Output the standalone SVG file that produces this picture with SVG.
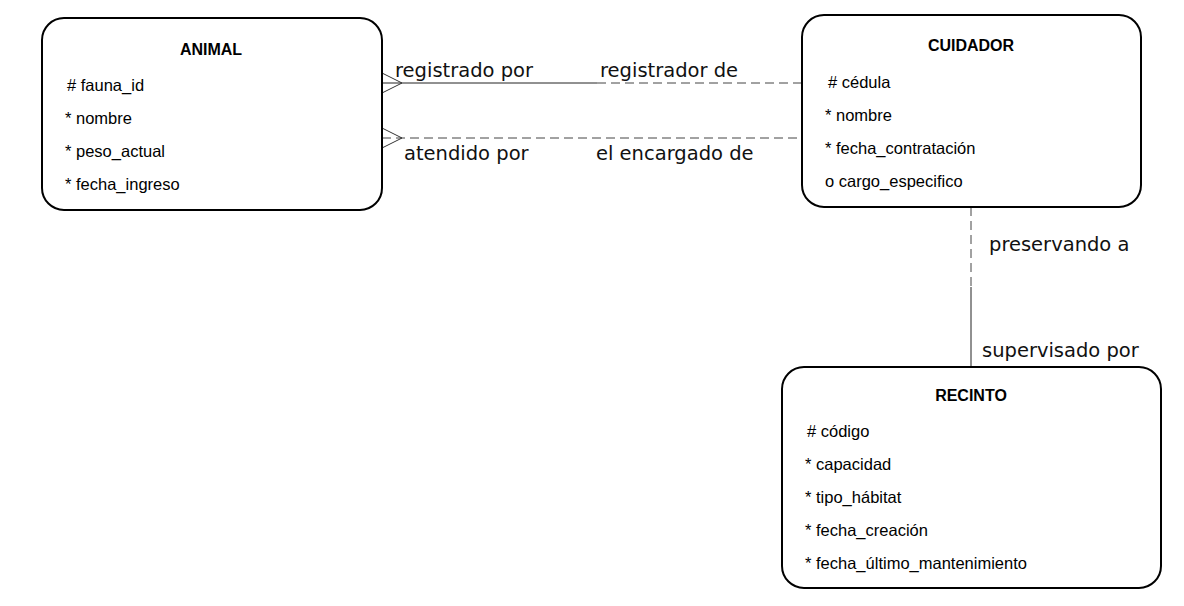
<svg xmlns="http://www.w3.org/2000/svg" width="1184" height="606" viewBox="0 0 1184 606">
<style>
.box{fill:#fff;stroke:#000;stroke-width:2}
.title{font-family:"Liberation Sans",Arial,sans-serif;font-weight:bold;font-size:16px;fill:#000;text-anchor:middle}
.attr{font-family:"Liberation Sans",Arial,sans-serif;font-size:16.5px;fill:#000}
.lbl{font-family:"DejaVu Sans",sans-serif;font-size:19.5px;fill:#111}
.solid{stroke:#222;stroke-width:1;fill:none}
.dash{stroke:#444;stroke-width:1;fill:none;stroke-dasharray:9 5}
.crow{stroke:#333;stroke-width:1;fill:none}
</style>
<rect width="1184" height="606" fill="#fff"/>
<g id="connectors">
  <g id="c1">
    <line class="solid" x1="382" y1="83" x2="597" y2="83"/>
    <line class="dash" x1="597" y1="83" x2="802" y2="83"/>
    <polyline class="crow" points="382,73 402,83 382,93"/>
    <text class="lbl" x="395" y="77">registrado por</text>
    <text class="lbl" x="600" y="77">registrador de</text>
  </g>
  <g id="c2">
    <line class="dash" x1="382" y1="138" x2="802" y2="138"/>
    <polyline class="crow" points="382,128 402,138 382,148"/>
    <text class="lbl" x="404" y="160">atendido por</text>
    <text class="lbl" x="596" y="160">el encargado de</text>
  </g>
  <g id="c3">
    <line class="dash" x1="971" y1="207" x2="971" y2="287"/>
    <line class="solid" x1="971" y1="287" x2="971" y2="367"/>
    <text class="lbl" x="989" y="251">preservando a</text>
    <text class="lbl" x="982" y="357">supervisado por</text>
  </g>
</g>
<g id="animal">
  <rect class="box" x="42" y="18" width="340" height="192" rx="22"/>
  <text class="title" x="211" y="55">ANIMAL</text>
  <text class="attr" x="67" y="91"># fauna_id</text>
  <text class="attr" x="65" y="124">* nombre</text>
  <text class="attr" x="65" y="157">* peso_actual</text>
  <text class="attr" x="65" y="190">* fecha_ingreso</text>
</g>
<g id="cuidador">
  <rect class="box" x="802" y="15" width="339" height="192" rx="22"/>
  <text class="title" x="971" y="51">CUIDADOR</text>
  <text class="attr" x="828" y="88"># cédula</text>
  <text class="attr" x="825" y="121">* nombre</text>
  <text class="attr" x="825" y="154">* fecha_contratación</text>
  <text class="attr" x="825" y="187">o cargo_especifico</text>
</g>
<g id="recinto">
  <rect class="box" x="782" y="367" width="379" height="221" rx="22"/>
  <text class="title" x="971" y="401">RECINTO</text>
  <text class="attr" x="807" y="437"># código</text>
  <text class="attr" x="805" y="470">* capacidad</text>
  <text class="attr" x="805" y="503">* tipo_hábitat</text>
  <text class="attr" x="805" y="536">* fecha_creación</text>
  <text class="attr" x="805" y="569">* fecha_último_mantenimiento</text>
</g>
</svg>
